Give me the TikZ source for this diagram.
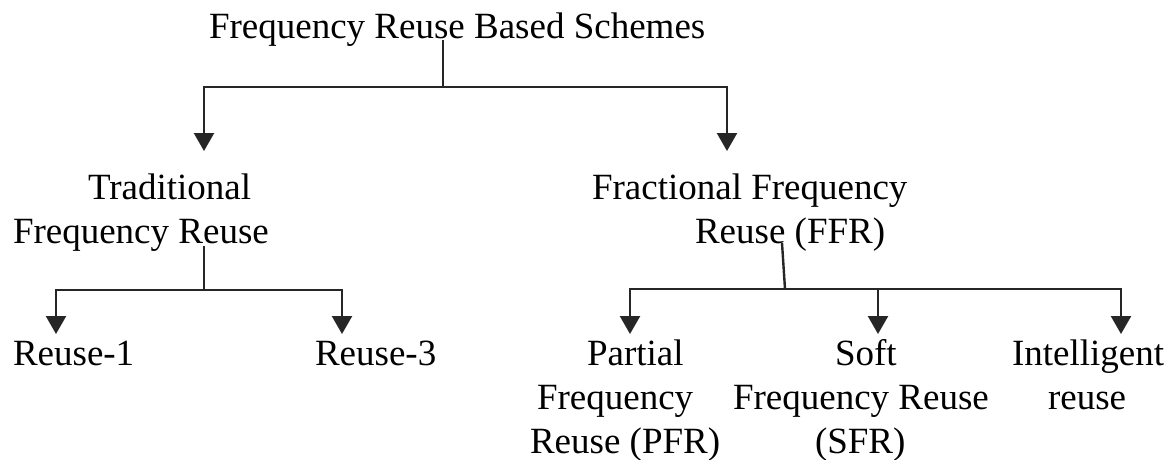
\documentclass[tikz,border=0pt]{standalone}
\usepackage{fontspec}
\setmainfont{Liberation Serif}
\usetikzlibrary{arrows.meta}
\begin{document}
\begin{tikzpicture}[x=1pt,y=-1pt,
  lbl/.style={anchor=base west, inner sep=0pt, outer sep=0pt, font=\fontsize{37}{44}\selectfont, text=black},
  conn/.style={draw=black!85, line width=2.4pt, line join=miter},
  arr/.style={conn, -{Triangle[width=20pt,length=18pt]}}]
\useasboundingbox[fill=white] (0,0) rectangle (1172,459);

% texts
\node[lbl] (title) at (209,38) {Frequency Reuse Based Schemes};
\node[lbl] (trad1) at (88,199) {Traditional};
\node[lbl] (trad2) at (13,243) {Frequency Reuse};
\node[lbl] (ffr1) at (592,199) {Fractional Frequency};
\node[lbl] (ffr2) at (695,243) {Reuse (FFR)};
\node[lbl] (r1) at (13,365) {Reuse-1};
\node[lbl] (r3) at (315,365) {Reuse-3};
\node[lbl] (pfr1) at (587,365) {Partial};
\node[lbl] (pfr2) at (537,409) {Frequency};
\node[lbl] (pfr3) at (530,453) {Reuse (PFR)};
\node[lbl] (sfr1) at (835,365) {Soft};
\node[lbl] (sfr2) at (733,409) {Frequency Reuse};
\node[lbl] (sfr3) at (815,453) {(SFR)};
\node[lbl] (ir1) at (1012,365) {Intelligent};
\node[lbl] (ir2) at (1048,409) {reuse};

% junction and tip coordinates
\coordinate (sTop) at (443,40);
\coordinate (jTop) at (443,87);
\coordinate (tTrad) at (204,151);
\coordinate (tFFR) at (727,151);
\coordinate (sTrad) at (204,246);
\coordinate (jTrad) at (204,290);
\coordinate (tR1) at (56,334);
\coordinate (tR3) at (342,334);
\coordinate (sFFR) at (782,243);
\coordinate (jFFR) at (785,289);
\coordinate (sSFR) at (878,289);
\coordinate (tPFR) at (630,334);
\coordinate (tSFR) at (878,334);
\coordinate (tIR) at (1121,334);

% connectors
\draw[conn] (sTop) -- (jTop);
\draw[arr] (jTop) -| (tTrad);
\draw[arr] (jTop) -| (tFFR);

\draw[conn] (sTrad) -- (jTrad);
\draw[arr] (jTrad) -| (tR1);
\draw[arr] (jTrad) -| (tR3);

\draw[conn] (sFFR) -- (jFFR);
\draw[arr] (jFFR) -| (tPFR);
\draw[arr] (jFFR) -| (tIR);
\draw[arr] (sSFR) -- (tSFR);
\end{tikzpicture}
\end{document}
